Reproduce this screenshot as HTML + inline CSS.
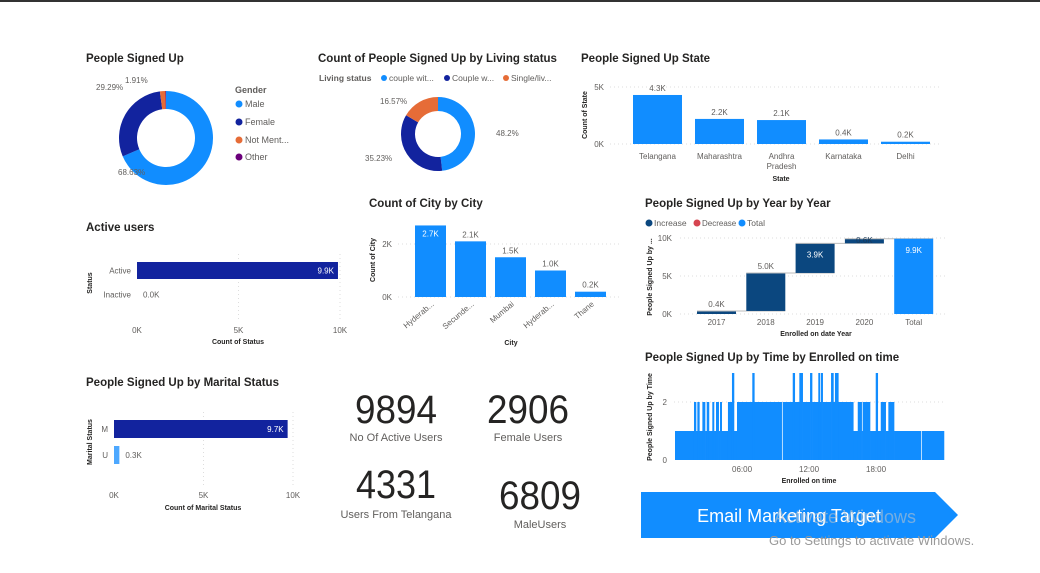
<!DOCTYPE html>
<html><head><meta charset="utf-8"><style>
html,body{margin:0;padding:0;background:#fff;}
svg{display:block;font-family:"Liberation Sans",sans-serif;}
.t{font-size:11.5px;font-weight:bold;fill:#252423;}
.ax{font-size:8px;fill:#605E5C;}
.at{font-size:7px;font-weight:bold;fill:#252423;}
.lg{font-size:8.5px;fill:#605E5C;}
.kpi{font-size:40px;fill:#252423;}
.kl{font-size:11px;fill:#605E5C;}
</style></head><body>
<svg id="s" width="1040" height="573" viewBox="0 0 1040 573">
<rect x="0" y="0" width="1040" height="2" fill="#333"/>
<g id="g"></g>
<text class="t" x="86" y="62">People Signed Up</text>
<text class="t" x="318" y="62">Count of People Signed Up by Living status</text>
<text class="t" x="581" y="62">People Signed Up State</text>
<text class="t" x="86" y="231">Active users</text>
<text class="t" x="369" y="207">Count of City by City</text>
<text class="t" x="645" y="207">People Signed Up by Year by Year</text>
<text class="t" x="86" y="386">People Signed Up by Marital Status</text>
<text class="t" x="645" y="361">People Signed Up by Time by Enrolled on time</text>
<text x="235" y="93" font-size="9" font-weight="bold" fill="#605E5C">Gender</text>
<g style="font-size:9px;fill:#605E5C">
<circle cx="239" cy="104" r="3.5" fill="#118DFF"/><text x="245" y="107">Male</text>
<circle cx="239" cy="122" r="3.5" fill="#12239E"/><text x="245" y="125">Female</text>
<circle cx="239" cy="140" r="3.5" fill="#E66C37"/><text x="245" y="143">Not Ment...</text>
<circle cx="239" cy="157" r="3.5" fill="#6B007B"/><text x="245" y="160">Other</text>
</g>
<g class="lg">
<text x="319" y="81" font-weight="bold" fill="#605E5C">Living status</text>
<circle cx="384" cy="78" r="3" fill="#118DFF"/><text x="389" y="81">couple wit...</text>
<circle cx="447" cy="78" r="3" fill="#12239E"/><text x="452" y="81">Couple w...</text>
<circle cx="506" cy="78" r="3" fill="#E66C37"/><text x="511" y="81">Single/liv...</text>
</g>
<g class="lg">
<circle cx="649" cy="223" r="3.5" fill="#0B477F"/><text x="654" y="226">Increase</text>
<circle cx="697" cy="223" r="3.5" fill="#D64550"/><text x="702" y="226" font-size="8">Decrease</text>
<circle cx="742" cy="223" r="3.5" fill="#118DFF"/><text x="747" y="226">Total</text>
</g>
<text class="kpi" x="396" y="423" text-anchor="middle" textLength="82" lengthAdjust="spacingAndGlyphs">9894</text>
<text class="kl" x="396" y="441" text-anchor="middle">No Of Active Users</text>
<text class="kpi" x="528" y="423" text-anchor="middle" textLength="82" lengthAdjust="spacingAndGlyphs">2906</text>
<text class="kl" x="528" y="441" text-anchor="middle">Female Users</text>
<text class="kpi" x="396" y="498" text-anchor="middle" textLength="80" lengthAdjust="spacingAndGlyphs">4331</text>
<text class="kl" x="396" y="518" text-anchor="middle">Users From Telangana</text>
<text class="kpi" x="540" y="509" text-anchor="middle" textLength="82" lengthAdjust="spacingAndGlyphs">6809</text>
<text class="kl" x="540" y="528" text-anchor="middle">MaleUsers</text>
<g>
<polygon points="641,492 935,492 958,515 935,538 641,538" fill="#118DFF"/>
<text x="789" y="522" text-anchor="middle" font-size="18" fill="#fff">Email Marketing Target</text>
</g>
<text x="774" y="523" font-size="18" fill="rgba(200,200,200,0.55)">Activate Windows</text>
<text x="769" y="545" font-size="13" fill="#999">Go to Settings to activate Windows.</text>
</svg>
<script>
const genderLabels=["Male","Female","Not Mentioned","Other"];
const genderPct=[68.63,29.29,1.91,0.17];
const livingLabels=["couple with children","Couple without children","Single/living alone"];
const livingPct=[48.2,35.23,16.57];
const stateCats=["Telangana","Maharashtra","Andhra Pradesh","Karnataka","Delhi"];
const stateVals=[4.3,2.2,2.1,0.4,0.2];
const stateTicks=[0,5];
const statusCats=["Active","Inactive"];
const statusVals=[9.9,0.0];
const statusTicks=[0,5,10];
const cityCats=["Hyderab...","Secunde...","Mumbai","Hyderab...","Thane"];
const cityVals=[2.7,2.1,1.5,1.0,0.2];
const cityTicks=[0,2];
const maritalCats=["M","U"];
const maritalVals=[9.7,0.3];
const maritalTicks=[0,5,10];
const yearCats=["2017","2018","2019","2020"];
const yearVals=[0.4,5.0,3.9,0.6];
const yearTicks=[0,5,10];
const timeStarts=[0,1.70,1.88,2.0,2.18,2.45,2.69,2.84,3.04,3.34,3.49,3.67,3.91,4.03,4.18,4.74,5.10,5.28,5.55,6.92,7.10,9.55,9.64,10.54,10.72,11.13,11.43,12.09,12.27,12.83,12.98,13.07,13.22,13.97,14.18,14.32,14.62,15.96,16.36,16.71,16.80,17.46,17.97,18.15,18.42,18.86,19.10,19.61,22.02,22.11];
const timeCounts=[1,2,1,2,1,2,1,2,1,2,1,2,1,2,1,2,3,1,2,3,2,0,2,3,2,3,2,3,2,3,2,3,2,3,2,3,2,1,2,1,2,1,3,1,2,1,2,1,0,1];
const timeEnd=24.08;
const timeTicks=[6,12,18];
const timeYTicks=[0,2];

const NS="http://www.w3.org/2000/svg";
const G=document.getElementById("g");
function mk(tag,at,txt){const e=document.createElementNS(NS,tag);for(const k in at)e.setAttribute(k,at[k]);if(txt!==undefined)e.textContent=txt;G.appendChild(e);return e;}
function arcPath(cx,cy,r0,r1,a0,a1){const p=(r,a)=>[cx+r*Math.sin(a),cy-r*Math.cos(a)];const lg=(a1-a0)>Math.PI?1:0;const A=p(r1,a0),B=p(r1,a1),C=p(r0,a1),D=p(r0,a0);return `M${A}A${r1},${r1} 0 ${lg} 1 ${B}L${C}A${r0},${r0} 0 ${lg} 0 ${D}Z`;}
function donut(cx,cy,r0,r1,vals,cols,name){let s=vals.reduce((a,b)=>a+b,0),a=0;vals.forEach((v,i)=>{const a1=a+v/s*2*Math.PI;const e=mk("path",{d:arcPath(cx,cy,r0,r1,a,a1),fill:cols[i]});


a=a1;});}
donut(166,138,29,47,genderPct,["#118DFF","#12239E","#E66C37","#6B007B"],"gender");
donut(438,134,23,37,livingPct,["#118DFF","#12239E","#E66C37"],"living");
[[genderPct[2],125,83],[genderPct[1],96,90],[genderPct[0],118,175]].forEach(d=>{const e=mk("text",{x:d[1],y:d[2],class:"ax"},d[0].toFixed(2)+"%");

});
[[livingPct[0],496,136],[livingPct[1],365,161],[livingPct[2],380,104]].forEach(d=>{const e=mk("text",{x:d[1],y:d[2],class:"ax"},d[0]+"%");

});

function grid(x1,y1,x2,y2){const e=mk("line",{x1,y1,x2,y2,stroke:"#ddd","stroke-dasharray":"1,3"});

}
function rotText(x,y,t,name){const e=mk("text",{x,y,class:"at","text-anchor":"middle",transform:`rotate(-90 ${x} ${y})`},t);

}

{const y0=144,k=11.4,x0=633,step=62,w=49;
stateTicks.forEach(t=>{const y=y0-t*k;grid(610,y,940,y);const e=mk("text",{x:604,y:y+3,class:"ax","text-anchor":"end"},t+"K");

});
stateVals.forEach((v,i)=>{const x=x0+i*step,h=v*k;const r=mk("rect",{x,y:y0-h,width:w,height:h,fill:"#118DFF"});


const t=mk("text",{x:x+w/2,y:y0-h-4,class:"ax","text-anchor":"middle"},v.toFixed(1)+"K");


const words=stateCats[i]==="Andhra Pradesh"?["Andhra","Pradesh"]:[stateCats[i]];
words.forEach((wd,j)=>{const c=mk("text",{x:x+w/2,y:159+j*10,class:"ax","text-anchor":"middle"},wd);

});});
const a=mk("text",{x:781,y:181,class:"at","text-anchor":"middle"},"State");


rotText(587,115,"Count of State","state-y-title");}

function hbar(cats,vals,ticks,x0,k,ys,bh,cols,name,tickY){
ticks.forEach(t=>{const x=x0+t*k;if(t>0)grid(x,ys[0]-8,x,tickY-12);const e=mk("text",{x,y:tickY,class:"ax","text-anchor":"middle"},t+"K");

});
vals.forEach((v,i)=>{const w=v*k,y=ys[i];const r=mk("rect",{x:x0,y,width:w,height:bh,fill:cols[i]});


const c=mk("text",{x:x0-6,y:y+bh/2+3,class:"ax","text-anchor":"end"},cats[i]);


const inside=w>40;const t=mk("text",{x:inside?x0+w-4:x0+w+6,y:y+bh/2+3,class:"ax","text-anchor":inside?"end":"start"},v.toFixed(1)+"K");
if(inside)t.setAttribute("style","fill:#fff");

});}
hbar(statusCats,statusVals,statusTicks,137,20.3,[262,286],17,["#12239E","#12239E"],"status",333);
{const a=mk("text",{x:238,y:344,class:"at","text-anchor":"middle"},"Count of Status");


rotText(92,283,"Status","status-y-title");}
hbar(maritalCats,maritalVals,maritalTicks,114,17.9,[420,446],18,["#12239E","#4DA8FF"],"marital",498);
{const a=mk("text",{x:203,y:510,class:"at","text-anchor":"middle"},"Count of Marital Status");


rotText(92,442,"Marital Status","marital-y-title");}

{const y0=297,k=26.5,x0=415,step=40,w=31;
cityTicks.forEach(t=>{const y=y0-t*k;grid(398,y,620,y);const e=mk("text",{x:392,y:y+3,class:"ax","text-anchor":"end"},t+"K");

});
cityVals.forEach((v,i)=>{const x=x0+i*step,h=v*k;const r=mk("rect",{x,y:y0-h,width:w,height:h,fill:"#118DFF"});


const inside=i===0;const t=mk("text",{x:x+w/2,y:inside?y0-h+11:y0-h-4,class:"ax","text-anchor":"middle"},v.toFixed(1)+"K");
if(inside)t.setAttribute("style","fill:#fff");


const cx=x+w/2+4,cy=y0+8;const c=mk("text",{x:cx,y:cy,class:"ax","text-anchor":"end",transform:`rotate(-40 ${cx} ${cy})`},cityCats[i]);

});
const a=mk("text",{x:511,y:345,class:"at","text-anchor":"middle"},"City");


rotText(375,260,"Count of City","city-y-title");}

{const y0=314,k=7.6,x0=697,step=49.3,w=39;
yearTicks.forEach(t=>{const y=y0-t*k;grid(680,y,945,y);const e=mk("text",{x:672,y:y+3,class:"ax","text-anchor":"end"},t+"K");

});
let cum=0;
yearVals.forEach((v,i)=>{const x=x0+i*step;const yt=y0-(cum+v)*k,h=v*k;
const r=mk("rect",{x,y:yt,width:w,height:h,fill:"#0B477F"});


const cn=mk("line",{x1:x,y1:yt,x2:x+step+w,y2:yt,stroke:"#bbb","stroke-width":1});


const inside=i>=2;const t=mk("text",{x:x+w/2,y:inside?(h>20?yt+14:yt+h-0.5):yt-4,class:"ax","text-anchor":"middle"},v.toFixed(1)+"K");
if(inside)t.setAttribute("style",h>20?"fill:#fff":"fill:#1a3a5a");


const c=mk("text",{x:x+w/2,y:325,class:"ax","text-anchor":"middle"},yearCats[i]);


cum+=v;});
const x=x0+4*step,h=cum*k;
const r=mk("rect",{x,y:y0-h,width:w,height:h,fill:"#118DFF"});


const t=mk("text",{x:x+w/2,y:y0-h+14,class:"ax","text-anchor":"middle",style:"fill:#fff"},cum.toFixed(1)+"K");


const c=mk("text",{x:x+w/2,y:325,class:"ax","text-anchor":"middle"},"Total");


const a=mk("text",{x:816,y:336,class:"at","text-anchor":"middle"},"Enrolled on date Year");


rotText(652,277,"People Signed Up by ...","year-y-title");}

{const y0=460,k=29,hx=h=>675+h*11.17;
timeYTicks.forEach(t=>{const y=y0-t*k;if(t>0)grid(674,y,945,y);const e=mk("text",{x:667,y:y+3,class:"ax","text-anchor":"end"},t);

});
timeCounts.forEach((v,i)=>{const xa=hx(timeStarts[i]),xb=hx(i+1<timeStarts.length?timeStarts[i+1]:timeEnd);if(v<=0)return;
const r=mk("rect",{x:xa,y:y0-v*k,width:Math.max(0.5,xb-xa+0.3),height:v*k,fill:"#118DFF"});

});
timeTicks.forEach(t=>{const e=mk("text",{x:hx(t),y:472,class:"ax","text-anchor":"middle"},(t<10?"0":"")+t+":00");

});
const a=mk("text",{x:809,y:483,class:"at","text-anchor":"middle"},"Enrolled on time");


rotText(652,417,"People Signed Up by Time","time-y-title");}
</script>
</body></html>
